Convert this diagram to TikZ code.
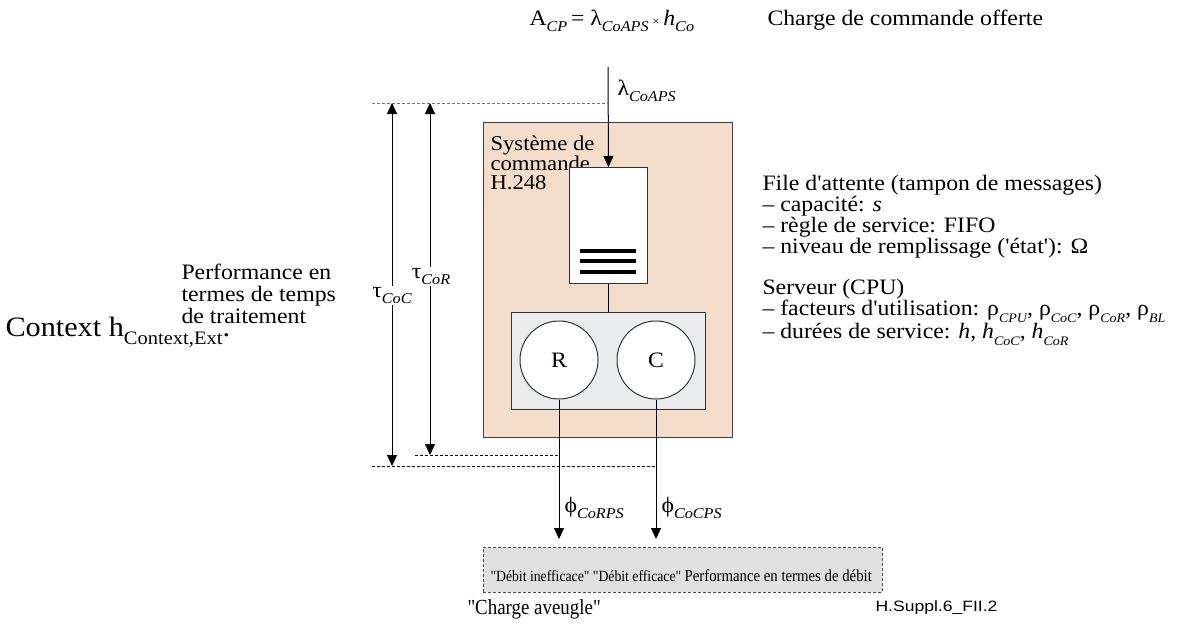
\documentclass[tikz,border=0pt]{standalone}
\usepackage{fontspec}
\newfontfamily\tf{Liberation Serif}[FakeStretch=1.08]
\newfontfamily\tfc{Liberation Serif}[FakeStretch=0.88]
\newfontfamily\labelsans{Liberation Sans}[FakeStretch=1.17]
\usetikzlibrary{arrows.meta}
\definecolor{peach}{HTML}{F4DDCB}
\definecolor{srvgray}{HTML}{E9EBEC}
\definecolor{boxgray}{HTML}{E0E0E0}
\newcommand\fs[1]{\tf\fontsize{#1}{#1}\selectfont}
\newcommand\fsc[1]{\tfc\fontsize{#1}{#1}\selectfont}
\newcommand\lsub[1]{\raisebox{-0.3em}{\fs{15}\itshape #1}}
\newcommand\ssub[1]{\raisebox{-0.3em}{\fs{13}\itshape #1}}
\begin{document}
\begin{tikzpicture}[x=1pt,y=-1pt,line width=1pt,
  >={Triangle[length=11pt,width=10pt]},
  txt/.style={inner sep=0pt,anchor=base west,font=\fs{22}},
  lbl/.style={inner sep=1pt,fill=white,font=\fs{22}},
  dline/.style={dashed,line width=0.8pt,dash pattern=on 3pt off 2pt}]
\useasboundingbox (0,0) rectangle (1177,632);
% main system box
\node[draw=black!75,fill=peach,minimum width=249pt,minimum height=315pt,anchor=north west,inner sep=0pt] (sys) at (483,122) {};
\node[txt,align=left,anchor=north west,font=\tf\fontsize{21}{19}\selectfont] (systxt) at (490,135) {Système de\\commande\\H.248};
% queue
\node[draw=black!80,fill=white,minimum width=78pt,minimum height=116pt,anchor=north west,inner sep=0pt] (queue) at (569,167) {};
\fill (580,249) rectangle (636,253);
\fill (580,259) rectangle (636,263);
\fill (580,270) rectangle (636,274);
% server
\node[draw=black!80,fill=srvgray,minimum width=194pt,minimum height=97pt,anchor=north west,inner sep=0pt] (server) at (511,312) {};
\node[draw=black!80,fill=white,circle,minimum size=78pt,inner sep=0pt,font=\fs{22}] (R) at (559,360) {R};
\node[draw=black!80,fill=white,circle,minimum size=78pt,inner sep=0pt,font=\fs{22}] (C) at (656,360) {C};
% bottom box
\node[draw=black!70,dline,fill=boxgray,minimum width=399pt,minimum height=45pt,anchor=north west,inner sep=0pt] (debit) at (483,547) {};
\node[txt,font=\fsc{15.6}] (deb1) at (490,581) {"Débit inefficace" "Débit efficace" {\fsc{16.8}Performance en termes de débit}};
% connectors
\coordinate (in) at (608,67);
\coordinate (rout) at (559,539);
\coordinate (cout) at (656,539);
\draw[->] (in) -- (queue.north);
\draw (queue.south) -- (server.north);
\draw[->] (R.south) -- (rout);
\draw[->] (C.south) -- (cout);
% time arrows
\coordinate (dtl) at (372,103);
\coordinate (dtr) at (608,103);
\coordinate (tctop) at (392,103);
\coordinate (tcbot) at (392,466);
\coordinate (trtop) at (430,103);
\coordinate (trbot) at (430,455);
\coordinate (d1l) at (415,455);
\coordinate (d1r) at (559,455);
\coordinate (d2l) at (372,466);
\coordinate (d2r) at (656,466);
\draw[dline,black!55] (dtl) -- (dtr);
\draw[dline] (d1l) -- (d1r);
\draw[dline] (d2l) -- (d2r);
\draw[<->] (tctop) -- (tcbot);
\draw[<->] (trtop) -- (trbot);
\node[lbl,anchor=base] (tcoc) at (392,297) {τ\lsub{CoC}};
\node[lbl,anchor=base] (tcor) at (431,278) {τ\lsub{CoR}};
% labels
\node[txt] (acp) at (529,25) {A\lsub{CP}\,= λ\lsub{CoAPS}\,{\fs{12}×}\,{\itshape h}\lsub{Co}};
\node[txt] (offer) at (767,25) {Charge de commande offerte};
\node[txt] (lam) at (617,95) {λ\lsub{CoAPS}};
\node[txt] (phr) at (564,512) {ϕ\lsub{CoRPS}};
\node[txt] (phc) at (661,512) {ϕ\lsub{CoCPS}};
\node[txt,align=left,anchor=north west] (perf) at (181,264) {Performance en\\termes de temps\\de traitement};
\node[txt,font=\fs{28}] (ctx) at (5,336) {Context h\raisebox{-0.3em}{\fs{19}Context,Ext}.};
\node[txt,align=left,anchor=north west,font=\tf\fontsize{22}{21}\selectfont] (fifo) at (762,175) {File d'attente (tampon de messages)\\– capacité: {\itshape s}\\– règle de service: FIFO\\– niveau de remplissage ('état'): Ω};
\node[txt,align=left,anchor=north west,font=\tf\fontsize{22}{21}\selectfont] (cpu) at (762,279) {Serveur (CPU)\\– facteurs d'utilisation: ρ\ssub{CPU}, ρ\ssub{CoC}, ρ\ssub{CoR}, ρ\ssub{BL}\\– durées de service: {\itshape h}, {\itshape h}\ssub{CoC}, {\itshape h}\ssub{CoR}};
\node[txt,font=\fsc{21.5}] (aveugle) at (467,614) {"Charge aveugle"};
\node[txt,font=\labelsans\fontsize{15}{15}\selectfont] (fig) at (875,611) {H.Suppl.6\_FII.2};
\end{tikzpicture}
\end{document}
